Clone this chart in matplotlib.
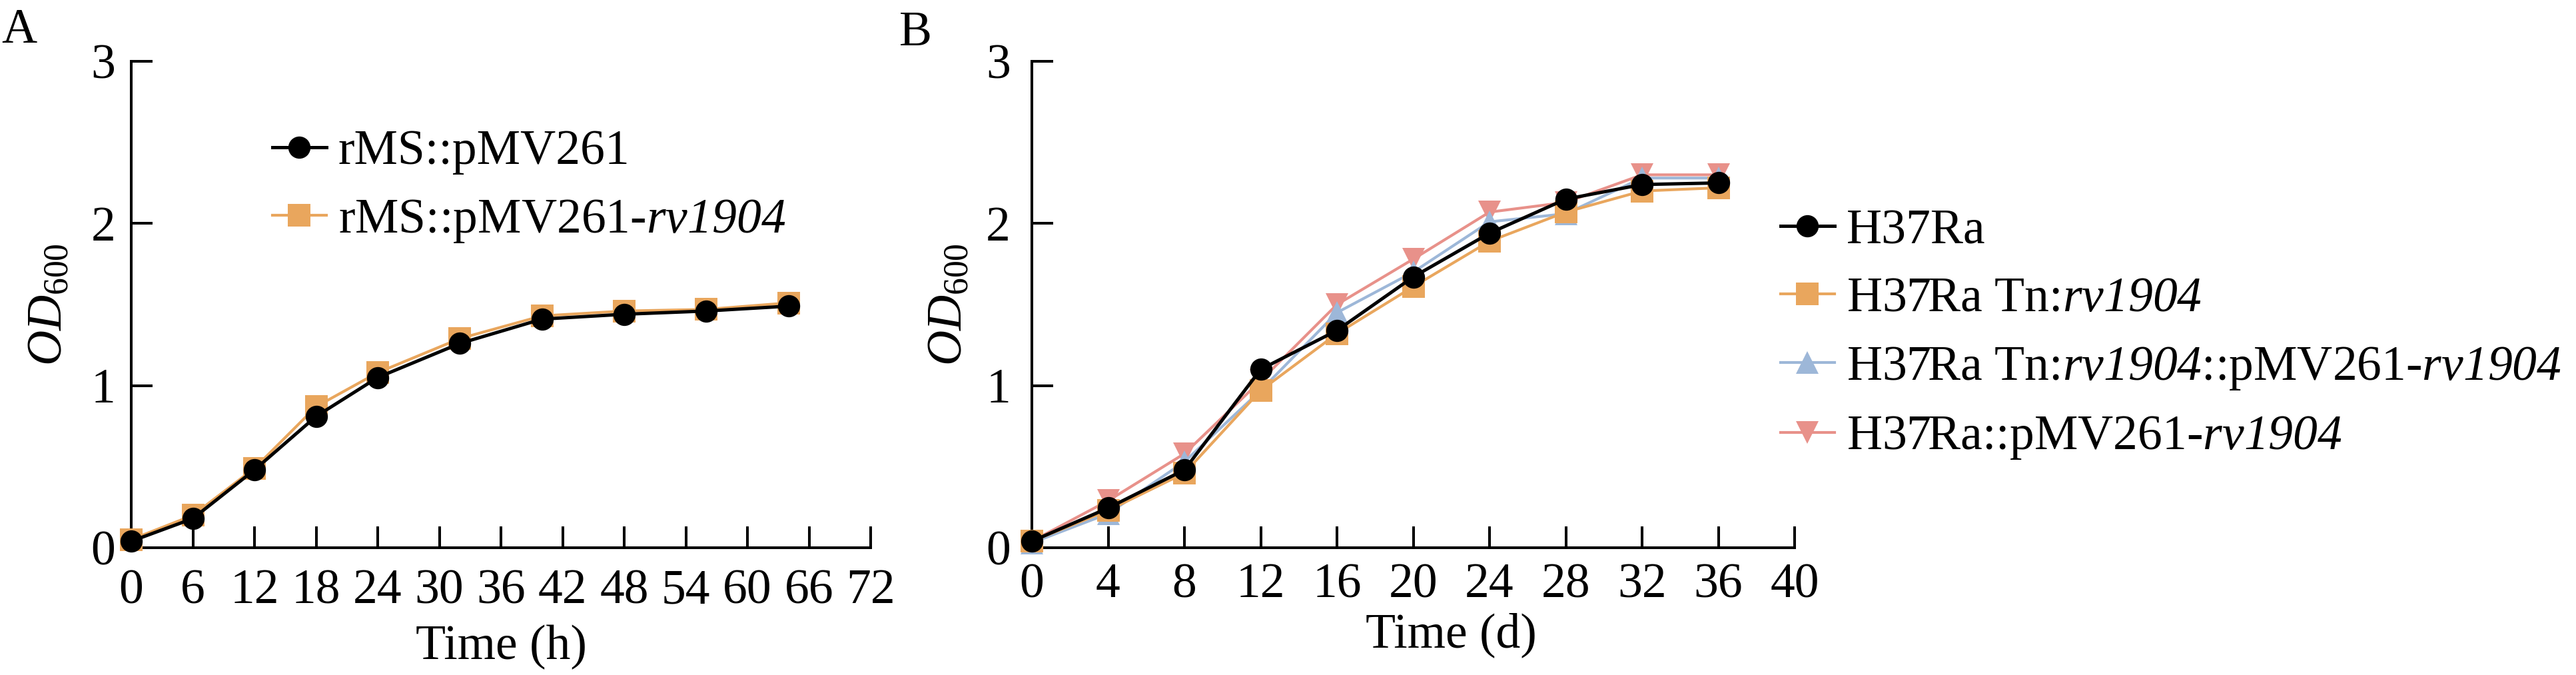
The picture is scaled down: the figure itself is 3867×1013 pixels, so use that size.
import matplotlib
matplotlib.use("Agg")
import matplotlib.pyplot as plt

plt.rcParams["font.family"] = ["Liberation Serif", "DejaVu Serif"]
plt.rcParams["mathtext.fontset"] = "custom"
plt.rcParams["mathtext.rm"] = "Liberation Serif"
plt.rcParams["mathtext.it"] = "Liberation Serif:italic"
plt.rcParams["mathtext.sf"] = "Liberation Serif:italic"

# panel A : rMS strains (hours)
time_h = [0, 6, 12, 18, 24, 32, 40, 48, 56, 64]
rms_pmv261 = [0.04, 0.18, 0.48, 0.81, 1.05, 1.26, 1.41, 1.44, 1.46, 1.49]
rms_pmv261_rv1904 = [0.05, 0.20, 0.49, 0.87, 1.08, 1.29, 1.43, 1.46, 1.47, 1.51]

# panel B : H37Ra strains (days)
time_d = [0, 4, 8, 12, 16, 20, 24, 28, 32, 36]
h37ra = [0.04, 0.245, 0.48, 1.10, 1.34, 1.67, 1.94, 2.15, 2.24, 2.25]
h37ra_tn = [0.04, 0.23, 0.46, 0.97, 1.32, 1.61, 1.89, 2.07, 2.20, 2.22]
h37ra_tn_comp = [0.03, 0.21, 0.53, 0.97, 1.45, 1.70, 2.01, 2.06, 2.28, 2.28]
h37ra_over = [0.04, 0.29, 0.58, 1.03, 1.50, 1.78, 2.07, 2.13, 2.30, 2.30]

# gene names in italics (sf slot is mapped to the italic face so digits stay italic)
labels_a = ["rMS::pMV261", r"rMS::pMV261-$\mathsf{rv1904}$"]
labels_b = ["H37Ra", r"H37Ra Tn:$\mathsf{rv1904}$",
            r"H37Ra Tn:$\mathsf{rv1904}$::pMV261-$\mathsf{rv1904}$",
            r"H37Ra::pMV261-$\mathsf{rv1904}$"]

BLACK = "#000000"
ORANGE = "#E9A65D"
BLUE = "#9DB7D8"
RED = "#E8918A"

FS = 53
W, H = 3867, 1013
fig = plt.figure(figsize=(W / 100, H / 100), dpi=100)

ax_a = fig.add_axes([197 / W, 1 - 822 / H, 1110 / W, 730 / H])
ax_b = fig.add_axes([1549 / W, 1 - 822 / H, 1145 / W, 730 / H])


def style_axis(ax, xmax, xstep, xpad, ypad):
    for s in ["top", "right"]:
        ax.spines[s].set_visible(False)
    for s in ["left", "bottom"]:
        ax.spines[s].set_linewidth(2.9)
    ax.set_xlim(0, xmax)
    ax.set_ylim(0, 3)
    ax.set_xticks(range(0, xmax + 1, xstep))
    ax.set_yticks([0, 1, 2, 3])
    ax.tick_params(axis="both", direction="in", length=23, width=2.9,
                   labelsize=FS)
    ax.tick_params(axis="x", pad=xpad)
    ax.tick_params(axis="y", pad=ypad)
    ax.set_ylabel(r"$\mathit{OD}_{600}$", fontsize=FS)


def draw(ax, x, y, color, marker, lw, z):
    line, = ax.plot(x, y, color=color, marker=marker, markersize=24,
                    linewidth=lw, markeredgewidth=0, clip_on=False, zorder=z)
    return line


def add_legend(ax, handles, labels, x, y):
    ax.legend(handles, labels, loc="center left",
              bbox_to_anchor=(x / W, 1 - y / H), bbox_transform=fig.transFigure,
              frameon=False, fontsize=FS, borderpad=0, borderaxespad=0,
              handlelength=1.1, handletextpad=0.24, labelspacing=0.47)


# panel A
style_axis(ax_a, 72, 6, 23, 17)
l_a2 = draw(ax_a, time_h, rms_pmv261_rv1904, ORANGE, "s", 3.0, 3)
l_a1 = draw(ax_a, time_h, rms_pmv261, BLACK, "o", 3.6, 4)
ax_a.set_xlabel("Time (h)", fontsize=FS)
ax_a.xaxis.set_label_coords(0.5, -0.159)
ax_a.yaxis.set_label_coords(-0.080, 0.5)
add_legend(ax_a, [l_a1, l_a2], labels_a, 409, 281)

# panel B
style_axis(ax_b, 40, 4, 16.5, 23)
l_b4 = draw(ax_b, time_d, h37ra_over, RED, "v", 3.0, 2)
l_b3 = draw(ax_b, time_d, h37ra_tn_comp, BLUE, "^", 3.0, 3)
l_b2 = draw(ax_b, time_d, h37ra_tn, ORANGE, "s", 3.0, 4)
l_b1 = draw(ax_b, time_d, h37ra, BLACK, "o", 3.6, 5)
ax_b.set_xlabel("Time (d)", fontsize=FS)
ax_b.xaxis.set_label_coords(0.550, -0.134)
ax_b.yaxis.set_label_coords(-0.078, 0.5)
add_legend(ax_b, [l_b1, l_b2, l_b3, l_b4], labels_b, 2673, 503)

fig.text(2 / W, 1 - 13 / H, "A", fontsize=FS, ha="left", va="top")
fig.text(1350 / W, 1 - 16 / H, "B", fontsize=FS, ha="left", va="top")

fig.savefig("out.png", dpi=100)
